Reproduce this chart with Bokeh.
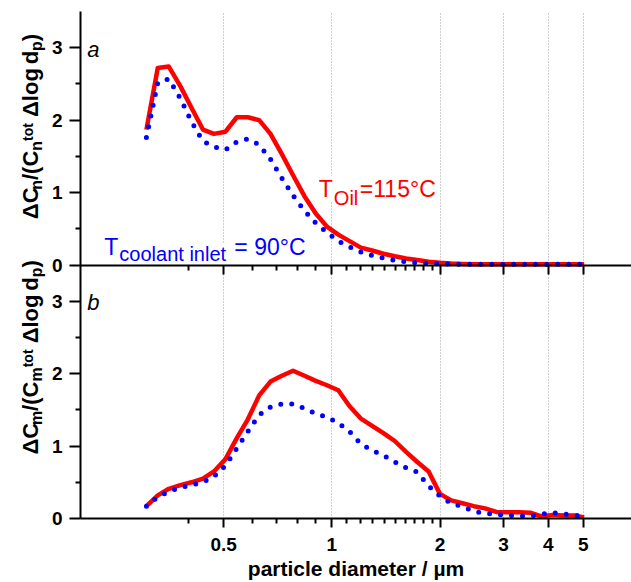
from bokeh.plotting import figure
from bokeh.layouts import row
from bokeh.models import Range1d, LogAxis, FixedTicker, Label
from bokeh.embed import file_html
from bokeh.resources import INLINE

# ---------------- data ----------------
diam = [0.305, 0.328, 0.352, 0.379, 0.407, 0.438, 0.470, 0.506, 0.544, 0.584,
        0.628, 0.675, 0.726, 0.780, 0.839, 0.902, 0.969, 1.042, 1.120, 1.204,
        1.294, 1.391, 1.496, 1.608, 1.728, 1.858, 1.997, 2.147, 2.308, 2.481,
        2.667, 2.867, 3.082, 3.313, 3.562, 3.829, 4.116, 4.425, 4.757, 5.03]

# panel a: number distribution
num_oil115 = [1.87, 2.72, 2.74, 2.47, 2.17, 1.87, 1.81, 1.84, 2.04, 2.04,
              2.00, 1.81, 1.53, 1.24, 0.95, 0.71, 0.53, 0.42, 0.33, 0.24,
              0.20, 0.155, 0.12, 0.09, 0.07, 0.045, 0.03, 0.02, 0.015, 0.012,
              0.01, 0.01, 0.01, 0.01, 0.01, 0.01, 0.01, 0.01, 0.01, 0.01]
num_cool90 = [1.76, 2.52, 2.57, 2.30, 1.98, 1.71, 1.63, 1.59, 1.70, 1.74,
              1.66, 1.46, 1.20, 0.96, 0.75, 0.58, 0.45, 0.33, 0.25, 0.18,
              0.13, 0.096, 0.065, 0.045, 0.03, 0.02, 0.015, 0.012, 0.01, 0.01,
              0.01, 0.01, 0.01, 0.01, 0.01, 0.01, 0.01, 0.01, 0.01, 0.01]

# panel b: mass distribution
mass_oil115 = [0.17, 0.32, 0.41, 0.46, 0.50, 0.55, 0.65, 0.82, 1.11, 1.37,
               1.70, 1.89, 1.97, 2.04, 1.97, 1.90, 1.84, 1.77, 1.55, 1.38,
               1.28, 1.18, 1.07, 0.92, 0.78, 0.65, 0.34, 0.25, 0.21, 0.17,
               0.14, 0.09, 0.085, 0.085, 0.08, 0.03, 0.05, 0.04, 0.04, 0.015]
mass_cool90 = [0.17, 0.30, 0.37, 0.43, 0.46, 0.50, 0.58, 0.73, 0.97, 1.20,
               1.43, 1.54, 1.58, 1.58, 1.52, 1.45, 1.40, 1.32, 1.20, 1.03,
               0.94, 0.87, 0.78, 0.70, 0.64, 0.45, 0.31, 0.21, 0.165, 0.10,
               0.07, 0.058, 0.045, 0.035, 0.034, 0.06, 0.08, 0.06, 0.045, 0.03]

x_major = [0.5, 1, 2, 3, 4, 5]
x_tick_labels = ["0.5", "1", "2", "3", "4", "5"]
x_minor = [0.4, 0.6, 0.7, 0.8, 0.9, 1.1, 1.2, 1.3, 1.4, 1.5, 1.6, 1.7, 1.8, 1.9]
y_major = [0, 1, 2, 3]
y_tick_labels = ["0", "1", "2", "3"]
y_minor = [0.5, 1.5, 2.5]
PANEL_SPAN = 3.5          # each panel spans 0 .. 3.5 on its own y axis

FONT = "Liberation Sans"
RED = "#ff0000"
BLUE = "#0000ff"

W, H = 631, 582
TITLE_W = 46

p = figure(width=W - TITLE_W, height=H, x_axis_type="log",
           x_range=Range1d(0.2, 6.81), y_range=Range1d(0, 2 * PANEL_SPAN),
           output_backend="svg", toolbar_location=None,
           min_border_left=80 - TITLE_W, min_border_right=0, min_border_top=11,
           min_border_bottom=0)
# upper panel (a) uses its own range whose 0 sits on the boundary between panels
p.extra_y_ranges = {"top": Range1d(-PANEL_SPAN, PANEL_SPAN)}
p.outline_line_color = None


def style_x(ax):
    ax.ticker = FixedTicker(ticks=x_major, minor_ticks=x_minor)
    ax.axis_line_width = 2
    ax.axis_line_color = "black"
    ax.major_tick_line_width = 2
    ax.minor_tick_line_width = 2
    ax.major_tick_out = 9
    ax.major_tick_in = 0
    ax.minor_tick_out = 5
    ax.minor_tick_in = 0


# bottom x axis (with labels)
xb = p.xaxis[0]
style_x(xb)
xb.major_label_overrides = dict(zip(x_major, x_tick_labels))
xb.major_label_text_font = FONT
xb.major_label_text_font_style = "bold"
xb.major_label_text_font_size = "19px"
xb.major_label_text_color = "black"
xb.major_label_standoff = 10
xb.axis_label = "particle diameter / µm"
xb.axis_label_text_font = FONT
xb.axis_label_text_font_style = "bold"
xb.axis_label_text_font_size = "21px"
xb.axis_label_text_color = "black"
xb.axis_label_standoff = 3

# x axis of panel a, at y = 0 of the upper range
xt = LogAxis(y_range_name="top", fixed_location=0)
style_x(xt)
xt.major_label_text_color = None
p.add_layout(xt, "below")

# one left axis carrying both panels' ticks
ya = p.yaxis[0]
ticks = list(y_major) + [PANEL_SPAN + v for v in y_major]
minors = list(y_minor) + [PANEL_SPAN + v for v in y_minor]
ya.ticker = FixedTicker(ticks=ticks, minor_ticks=minors)
ya.major_label_overrides = dict(zip(ticks, y_tick_labels + y_tick_labels))
ya.axis_line_width = 2
ya.axis_line_color = "black"
ya.major_tick_line_width = 2
ya.minor_tick_line_width = 2
ya.major_tick_out = 11
ya.major_tick_in = 0
ya.minor_tick_out = 5
ya.minor_tick_in = 0
ya.major_label_standoff = 7
ya.major_label_text_font = FONT
ya.major_label_text_font_style = "bold"
ya.major_label_text_font_size = "19px"
ya.major_label_text_color = "black"

p.xgrid.ticker = FixedTicker(ticks=x_major)
p.xgrid.grid_line_color = "#9a9a9a"
p.xgrid.grid_line_dash = "1 2"
p.xgrid.grid_line_width = 1
p.ygrid.grid_line_color = None

# ---------------- curves ----------------
p.line(diam, num_oil115, y_range_name="top", line_color=RED, line_width=4.5,
       line_join="round")
p.line(diam, num_cool90, y_range_name="top", line_color=BLUE, line_width=5,
       line_dash="0 11", line_cap="round")
p.line(diam, mass_oil115, line_color=RED, line_width=4.5, line_join="round")
p.line(diam, mass_cool90, line_color=BLUE, line_width=5,
       line_dash="0 11", line_cap="round")

# ---------------- panel letters ----------------
p.add_layout(Label(x=0.209, y=2.98, y_range_name="top", text="a", text_font=FONT,
                   text_font_style="italic", text_font_size="22px",
                   text_color="black", text_baseline="alphabetic"))
p.add_layout(Label(x=0.209, y=2.98, text="b", text_font=FONT,
                   text_font_style="italic", text_font_size="22px",
                   text_color="black", text_baseline="alphabetic"))


# ---------------- temperature annotations ----------------
def tlabel(x, y, pieces, color):
    for txt, size, dx, dy in pieces:
        p.add_layout(Label(x=x, y=y, y_range_name="top", x_offset=dx, y_offset=dy,
                           text=txt, text_font=FONT, text_font_size=f"{size}px",
                           text_color=color, text_baseline="alphabetic",
                           text_align="left", background_fill_color="white",
                           level="underlay"))


tlabel(0.920, 1.054, [("T", 23, 0, 0), ("Oil", 20, 15, -9), ("=115°C", 23, 41, 0)], RED)
tlabel(0.233, 0.243, [("T", 23, 0, 0), ("coolant inlet", 20, 15, -7),
                      ("= 90°C", 23, 130, 0)], BLUE)

# ---------------- rotated y-axis titles (separate strip at the left) ----------------
t = figure(width=TITLE_W, height=H, x_range=Range1d(0, TITLE_W), y_range=Range1d(H, 0),
           output_backend="svg", toolbar_location=None,
           x_axis_location=None, y_axis_location=None,
           min_border_left=0, min_border_right=0, min_border_top=0, min_border_bottom=0)
t.outline_line_color = None
t.xgrid.visible = False
t.ygrid.visible = False

ADV = {"Δ": 0.612, "C": 0.722, "n": 0.611, "m": 0.889, "/": 0.278, "(": 0.333,
       ")": 0.333, "t": 0.333, "o": 0.611, " ": 0.278, "l": 0.278, "g": 0.611,
       "d": 0.611, "p": 0.611}
BASE_X = 29.5
SUB, SUP = 6.5, -2.5


def rot_title(y_center, sub):
    pieces = [("ΔC", 22, 0), (sub, 16, SUB), ("/(C", 22, 0), (sub, 16, SUB),
              ("tot", 14, SUP), (" ", 22, 0), ("Δlog", 22, 0), (" ", 22, 0),
              ("d", 22, 0), ("p", 16, SUB), (")", 22, 0)]
    total = sum(sum(ADV[c] for c in s) * fs for s, fs, _ in pieces)
    off = -total / 2
    for txt, size, shift in pieces:
        w = sum(ADV[c] for c in txt) * size
        if txt.strip():
            t.add_layout(Label(x=BASE_X + shift, y=y_center, y_offset=off, text=txt,
                               angle=90, angle_units="deg", text_font=FONT,
                               text_font_size=f"{size}px", text_font_style="bold",
                               text_color="black", text_align="left",
                               text_baseline="alphabetic"))
        off += w


rot_title(132, "n")
rot_title(397, "m")

layout = row(t, p)
open("out.html", "w").write(file_html(layout, INLINE))
